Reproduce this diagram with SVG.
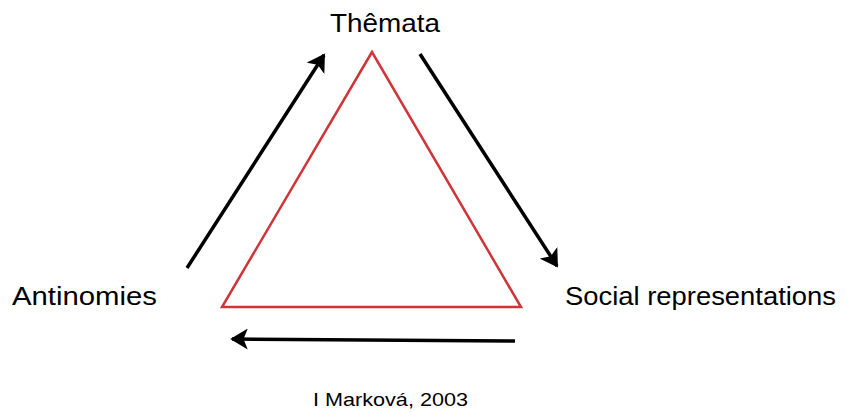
<svg xmlns="http://www.w3.org/2000/svg" width="848" height="413" viewBox="0 0 848 413">
<style>
.lbl{font-family:"Liberation Sans",Arial,sans-serif;font-size:26.5px;fill:#000}
.cap{font-family:"Liberation Sans",Arial,sans-serif;font-size:19px;fill:#000}
.arr{stroke:#000;stroke-width:3.5;fill:none;marker-end:url(#ah)}
</style>
<defs>
<marker id="ah" markerWidth="6" markerHeight="6" refX="4.5" refY="3" orient="auto" markerUnits="strokeWidth">
<path d="M0,0 L5,3 L0,6 L1.2,3 Z" fill="#000"/>
</marker>
</defs>
<rect width="848" height="413" fill="#fff"/>
<g id="triangle">
<polygon points="372,52 222,307 521,307" fill="none" stroke="#d13438" stroke-width="2.5" stroke-linejoin="miter"/>
</g>
<g id="themata"><text class="lbl" x="330" y="32" textLength="110" lengthAdjust="spacingAndGlyphs">Thêmata</text></g>
<g id="antinomies"><text class="lbl" x="12" y="305" textLength="145" lengthAdjust="spacingAndGlyphs">Antinomies</text></g>
<g id="social"><text class="lbl" x="565" y="305" textLength="271" lengthAdjust="spacingAndGlyphs">Social representations</text></g>
<g id="caption"><text class="cap" x="313" y="406" textLength="155" lengthAdjust="spacingAndGlyphs">I Marková, 2003</text></g>
<g id="connectors">
<line class="arr" x1="187" y1="268" x2="324" y2="55"/>
<line class="arr" x1="420" y1="54" x2="557" y2="266"/>
<line class="arr" x1="515" y1="341" x2="232" y2="339"/>
</g>
</svg>
